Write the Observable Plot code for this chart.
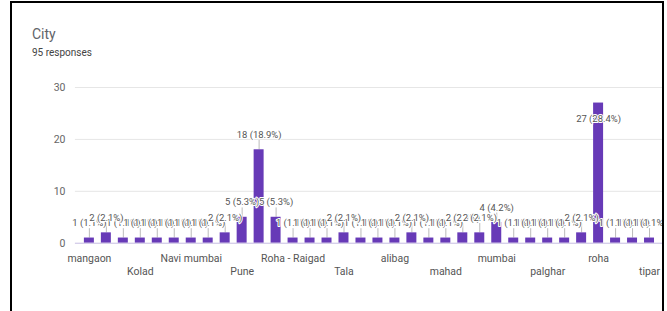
<!DOCTYPE html>
<html><head><meta charset="utf-8">
<script src="https://cdn.jsdelivr.net/npm/d3@7"></script>
<script src="https://cdn.jsdelivr.net/npm/@observablehq/plot@0.6"></script>
<style>
html,body{margin:0;padding:0;background:#fff;overflow:hidden;}
#page{position:relative;width:667px;height:311px;overflow:hidden;font-family:Roboto, Arial, sans-serif;}
#frame{position:absolute;left:10px;top:1px;width:654px;height:330px;box-sizing:border-box;border:2px solid #000;border-bottom:none;overflow:hidden;}
#title{position:absolute;left:20px;top:24px;font-size:14px;line-height:1;color:#5f6368;}
#sub{position:absolute;left:20px;top:45px;font-size:10px;line-height:1;color:#444;}
#chart{position:absolute;left:0;top:67px;}
</style></head>
<body>
<div id="page"><div id="frame">
<div id="title">City</div>
<div id="sub">95 responses</div>
<div id="chart"></div>
</div></div>
<script>
const title = "City";
const totalResponses = 95;
const cities = ["mangaon","Alibag","Khopoli","Kolad","Mahad","Mumbai","Navi mumbai","Panvel","Pen","Pune",
  "Roha","Roha (Raigad)","Roha - Raigad","Roha, Raigad","Sudhagad","Tala","Thane","Uran","alibag","khopoli",
  "kolad","mahad","mangaon raigad","mhasla","mumbai","murud","nagothane","palghar","panvel","pen",
  "roha","roha raigad","sudhagad","tipar"];
const counts = [1,2,1,1,1,1,1,1,2,5,
  18,5,1,1,1,2,1,1,1,2,
  1,1,2,2,4,1,1,1,1,2,
  27,1,1,1];
const yTicks = [0,10,20,30];

const data = cities.map((c,i)=>({city:c, value:counts[i], idx:i}));
const pct = v => `${v} (${(v/totalResponses*100).toFixed(1)}%)`;
const low = data.filter(d=>d.value<25).sort((a,b)=>a.value-b.value);
const high = data.filter(d=>d.value>=25);
const row1 = data.filter(d=>d.idx%6===0);
const row2 = data.filter(d=>d.idx%6===3);

const chart = Plot.plot({
  width:651, height:213,
  marginTop:17, marginBottom:40, marginLeft:63, marginRight:0,
  style:{fontFamily:"Roboto, Arial, sans-serif", background:"transparent", overflow:"visible"},
  x:{type:"band", domain:cities, paddingInner:0.42, paddingOuter:0.232, axis:null},
  y:{domain:[0,30], axis:null},
  marks:[
    Plot.ruleY(yTicks.filter(t=>t>0), {stroke:"#e6e6e6"}),
    Plot.text(yTicks, {y:d=>d, text:d=>String(d), frameAnchor:"left", textAnchor:"end", dx:-10, fontSize:10.5, fill:"#666"}),
    Plot.ruleX(low, {x:"city", y1:"value", y2:d=>d.value+1.8, stroke:"#aaa", strokeWidth:0.8}),
    Plot.barY(data, {x:"city", y:"value", fill:"#673ab7"}),
    Plot.ruleY([0], {stroke:"#c6bce2"}),
    Plot.text(low, {x:"city", y:"value", dy:-15, text:d=>pct(d.value), fontSize:9.5, fill:"#555", stroke:"white", strokeWidth:2}),
    Plot.text(high, {x:"city", y:"value", dy:16, text:d=>pct(d.value), fontSize:9.5, fill:"#555", stroke:"white", strokeWidth:2}),
    Plot.text(row1, {x:"city", y:()=>0, dy:15, text:"city", fontSize:10.5, fill:"#555"}),
    Plot.text(row2, {x:"city", y:()=>0, dy:28, text:"city", fontSize:10.5, fill:"#555"})
  ]
});
document.getElementById("chart").appendChild(chart);
</script>
</body></html>
